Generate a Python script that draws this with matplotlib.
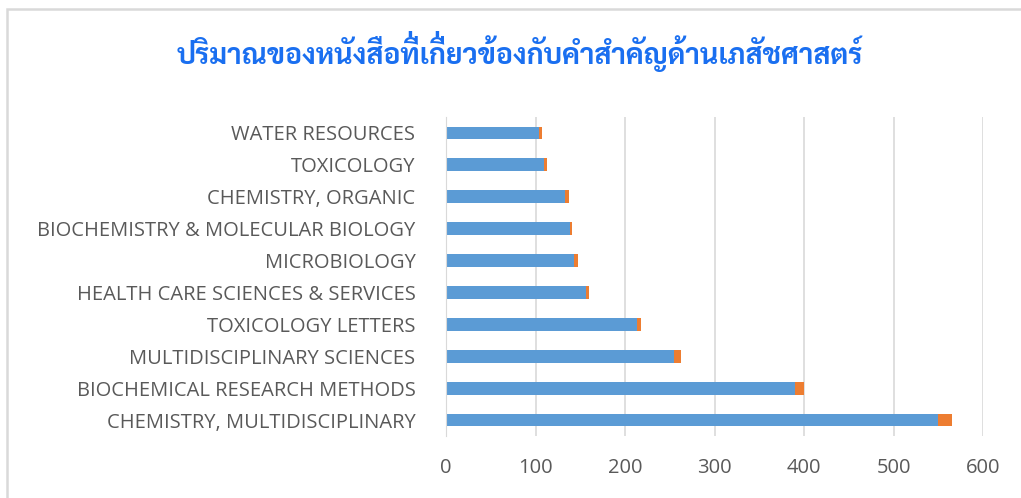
import matplotlib
matplotlib.use("Agg")
import matplotlib.pyplot as plt
from matplotlib.patches import Rectangle

categories = [
    "CHEMISTRY, MULTIDISCIPLINARY",
    "BIOCHEMICAL RESEARCH METHODS",
    "MULTIDISCIPLINARY SCIENCES",
    "TOXICOLOGY LETTERS",
    "HEALTH CARE SCIENCES & SERVICES",
    "MICROBIOLOGY",
    "BIOCHEMISTRY & MOLECULAR BIOLOGY",
    "CHEMISTRY, ORGANIC",
    "TOXICOLOGY",
    "WATER RESOURCES",
]
series_1 = [550, 390, 255, 213, 156, 143, 138, 133, 110, 104]
series_2 = [15, 10, 8, 5, 4, 4, 3, 4, 3, 3]
x_ticks = [0, 100, 200, 300, 400, 500, 600]
title = "ปริมาณของหนังสือที่เกี่ยวข้องกับคำสำคัญด้านเภสัชศาสตร์"

W, H = 1021, 498
fig = plt.figure(figsize=(W / 100, H / 100), dpi=100)
ax = fig.add_axes([446 / W, 62 / H, 537 / W, 319 / H])

ax.barh(categories, series_1, height=0.4, color="#5b9bd5")
ax.barh(categories, series_2, left=series_1, height=0.4, color="#ed7d31")

ax.set_xlim(0, 600)
ax.set_ylim(-0.5, 9.5)
ax.set_xticks(x_ticks)
ax.xaxis.grid(True, color="#d9d9d9", linewidth=1.2)
ax.set_axisbelow(True)
for s in ["top", "right", "bottom"]:
    ax.spines[s].set_visible(False)
ax.spines["left"].set_color("#d9d9d9")
ax.tick_params(axis="both", length=0, colors="#595959")
ax.tick_params(axis="x", pad=16, labelsize=14.5)
ax.tick_params(axis="y", pad=22, labelsize=14.5)
for lab in ax.get_yticklabels() + ax.get_xticklabels():
    lab.set_family(["Open Sans", "DejaVu Sans"])

# Title --------------------------------------------------------------
# matplotlib does no Thai shaping, so a tone mark after an upper vowel
# lands on top of the vowel. Draw those marks on their own, raised.
tfont = dict(color="#1a6ff0", fontsize=20.5, fontweight="bold",
             family=["Sarabun", "DejaVu Sans"])
MAI_EK = "\u0e48"
upper = "\u0e34\u0e35\u0e36\u0e37\u0e31"
stacked = [i for i, c in enumerate(title)
           if c == MAI_EK and i > 0 and title[i - 1] in upper]
plain = "".join(c for i, c in enumerate(title) if i not in stacked)

cx, base_y = 520 / W, 1 - 64 / H
t = fig.text(cx, base_y, plain, ha="center", va="baseline", **tfont)
r = fig.canvas.get_renderer()
left = t.get_window_extent(r).x0


def width_of(s):
    tmp = fig.text(0, 0, s, **tfont)
    w = tmp.get_window_extent(r).width
    tmp.remove()
    return w


for i in stacked:
    # sit the mark over the consonant that carries the vowel
    pre = "".join(c for j, c in enumerate(title[:i - 2]) if j not in stacked)
    x1 = left + width_of(pre) if pre else left
    x2 = left + width_of(pre + title[i - 2])
    xm = x1 + 0.62 * (x2 - x1)
    fig.text(xm / W, base_y + 7 / H, MAI_EK,
             ha="center", va="baseline", **tfont)

# light grey frame of the chart area
fig.patches.append(Rectangle((7 / W, -0.05), 1.1, 1 - 9 / H + 0.05,
                             transform=fig.transFigure, fill=False,
                             edgecolor="#d9d9d9", linewidth=1.8))

fig.savefig("out.png", dpi=100)
